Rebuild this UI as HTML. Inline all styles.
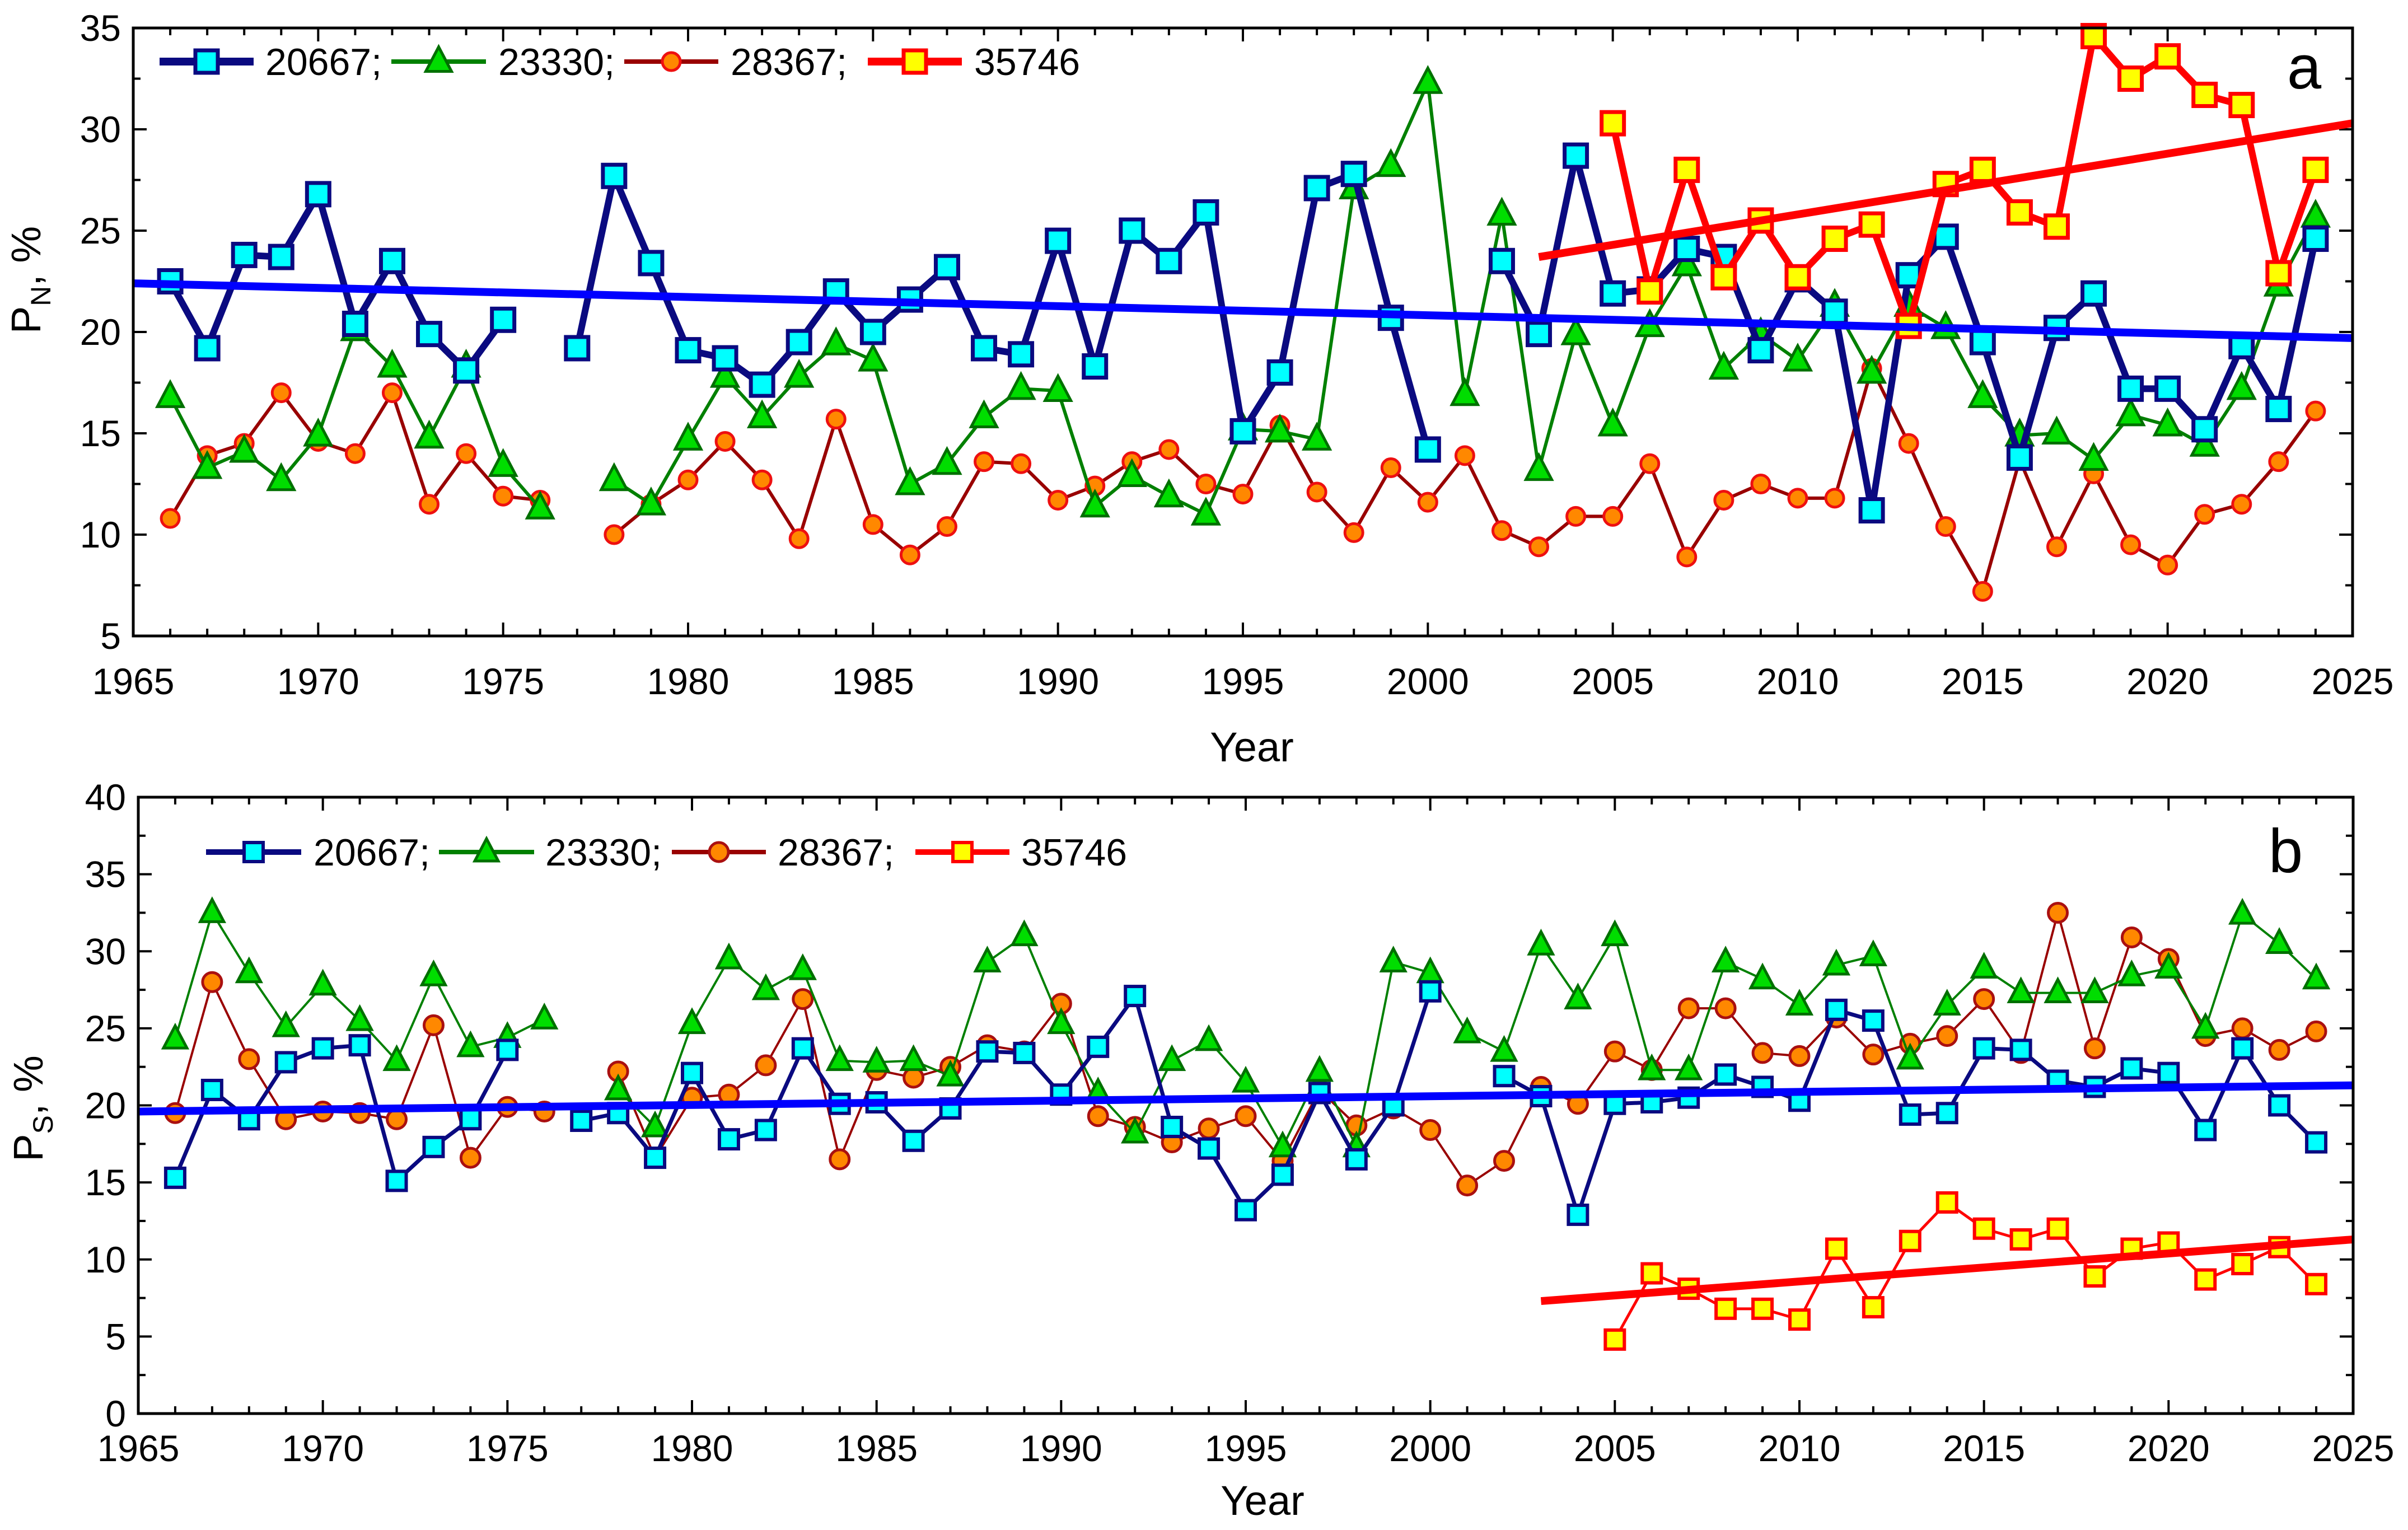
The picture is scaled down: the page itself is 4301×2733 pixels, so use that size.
<!DOCTYPE html>
<html><head><meta charset="utf-8"><style>
html,body{margin:0;padding:0;background:#fff;}
svg{display:block;font-family:"Liberation Sans",Arial,sans-serif;}
</style></head><body>
<svg id="chart" xmlns="http://www.w3.org/2000/svg" width="4301" height="2733" viewBox="0 0 4301 2733">
<rect x="0" y="0" width="4301" height="2733" fill="#fff"/>
</svg>
<script>
const years = [];
for (let y = 1966; y <= 2024; y++) years.push(y);
const yearsS4 = [2005,2006,2007,2008,2009,2010,2011,2012,2013,2014,2015,2016,2017,2018,2019,2020,2021,2022,2023,2024];
const xTickLabels = [1965,1970,1975,1980,1985,1990,1995,2000,2005,2010,2015,2020,2025];
const yTicksA = [5,10,15,20,25,30,35];
const yTicksB = [0,5,10,15,20,25,30,35,40];
const seriesNames = ["20667;","23330;","28367;","35746"];

const aS1 = [22.5,19.2,23.8,23.7,26.8,20.4,23.5,19.9,18.1,20.6,null,19.2,27.7,23.4,19.1,18.7,17.4,19.5,22.0,20.0,21.6,23.2,19.2,18.9,24.5,18.3,25.0,23.5,25.9,15.1,18.0,27.1,27.8,20.7,14.2,null,23.5,19.9,28.7,21.9,22.1,24.1,23.7,19.1,22.6,21.0,11.2,22.8,24.7,19.5,13.8,20.2,21.9,17.2,17.2,15.2,19.3,16.2,24.6];
const aS2 = [16.8,13.3,14.1,12.7,14.9,20.1,18.3,14.8,18.3,13.4,11.3,null,12.7,11.5,14.7,17.8,15.8,17.8,19.4,18.6,12.5,13.5,15.8,17.2,17.1,11.4,12.9,11.9,11.0,15.2,15.1,14.7,27.1,28.2,32.3,16.9,25.8,13.2,19.9,15.4,20.3,23.3,18.2,19.9,18.6,21.3,18.0,21.3,20.2,16.8,14.9,15.0,13.7,15.9,15.4,14.4,17.2,22.3,25.7];
const aS3 = [10.8,13.9,14.5,17.0,14.6,14.0,17.0,11.5,14.0,11.9,11.7,null,10.0,11.5,12.7,14.6,12.7,9.8,15.7,10.5,9.0,10.4,13.6,13.5,11.7,12.4,13.6,14.2,12.5,12.0,15.4,12.1,10.1,13.3,11.6,13.9,10.2,9.4,10.9,10.9,13.5,8.9,11.7,12.5,11.8,11.8,18.2,14.5,10.4,7.2,13.7,9.4,13.0,9.5,8.5,11.0,11.5,13.6,16.1];
const aS4 = [30.3,22.0,28.0,22.7,25.5,22.7,24.6,25.3,20.3,27.3,28.0,25.9,25.2,34.6,32.5,33.6,31.7,31.2,22.9,28.0];
const aTrend1 = [[1965,22.4],[2025,19.7]];
const aTrend4 = [[2003,23.7],[2025,30.3]];

const bS1 = [15.3,21.0,19.1,22.8,23.7,23.9,15.1,17.3,19.1,23.6,null,19.0,19.5,16.6,22.1,17.8,18.4,23.7,20.1,20.2,17.7,19.8,23.5,23.4,20.7,23.8,27.1,18.6,17.2,13.2,15.5,20.8,16.5,20.0,27.4,null,21.9,20.6,12.9,20.1,20.2,20.5,22.0,21.2,20.3,26.2,25.5,19.4,19.5,23.7,23.6,21.6,21.2,22.4,22.1,18.4,23.7,20.0,17.6];
const bS2 = [24.3,32.5,28.6,25.1,27.8,25.5,22.9,28.4,23.8,24.4,25.6,null,21.0,18.6,25.3,29.5,27.5,28.8,22.9,22.8,22.9,21.9,29.3,31.0,25.3,20.8,18.2,22.9,24.2,21.5,17.3,22.2,17.3,29.3,28.6,24.7,23.5,30.4,26.9,31.0,22.3,22.3,29.3,28.2,26.5,29.1,29.7,23.0,26.5,28.9,27.3,27.3,27.3,28.4,28.9,25.0,32.4,30.5,28.2];
const bS3 = [19.5,28.0,23.0,19.1,19.6,19.5,19.1,25.2,16.6,19.9,19.6,null,22.2,16.6,20.5,20.7,22.6,26.9,16.5,22.3,21.8,22.5,23.9,23.5,26.6,19.3,18.6,17.6,18.5,19.3,16.4,21.0,18.7,19.8,18.4,14.8,16.4,21.2,20.1,23.5,22.3,26.3,26.3,23.4,23.2,25.7,23.3,24.0,24.5,26.9,23.4,32.5,23.7,30.9,29.5,24.5,25.0,23.6,24.8];
const bS4 = [4.8,9.1,8.1,6.8,6.8,6.1,10.7,6.9,11.2,13.7,12.0,11.3,12.0,8.9,10.7,11.1,8.7,9.7,10.8,8.4];
const bTrend1 = [[1965,19.6],[2025,21.3]];
const bTrend4 = [[2003,7.3],[2025,11.3]];

const NS = "http://www.w3.org/2000/svg";
const svg = document.getElementById("chart");
function mk(tag, attrs, parent) {
  const e = document.createElementNS(NS, tag);
  for (const k in attrs) e.setAttribute(k, attrs[k]);
  (parent || svg).appendChild(e);
  return e;
}

function marker(g, type, cx, cy, s, st) {
  let e;
  if (type === "square") {
    e = mk("rect", {x: cx - s/2, y: cy - s/2, width: s, height: s, fill: st.fill, stroke: st.stroke, "stroke-width": st.sw}, g);
  } else if (type === "tri") {
    const h = s * 0.95;
    e = mk("polygon", {points: `${cx},${cy - h*0.6} ${cx - s/2},${cy + h*0.4} ${cx + s/2},${cy + h*0.4}`, fill: st.fill, stroke: st.stroke, "stroke-width": st.sw, "stroke-linejoin": "miter"}, g);
  } else {
    e = mk("circle", {cx: cx, cy: cy, r: s/2, fill: st.fill, stroke: st.stroke, "stroke-width": st.sw}, g);
  }
  return e;
}

function panel(cfg) {
  const {x0, x1, y0, y1, ymin, ymax, yTicks, id} = cfg;
  const X = v => x0 + (v - 1965) / 60 * (x1 - x0);
  const Y = v => y1 - (v - ymin) / (ymax - ymin) * (y1 - y0);
  const g = mk("g", {});
  
  

  // ticks
  const tg = mk("g", {stroke: "#000", "stroke-width": 4}, g);
  
  
  for (let yr = 1965; yr <= 2025; yr++) {
    const L = (yr % 5 === 0) ? 24 : 13;
    const xx = X(yr);
    mk("line", {x1: xx, y1: y1, x2: xx, y2: y1 - L}, tg);
    mk("line", {x1: xx, y1: y0, x2: xx, y2: y0 + L}, tg);
  }
  const step = yTicks[1] - yTicks[0];
  for (let v = ymin; v <= ymax + 0.001; v += step / 2) {
    const major = Math.abs((v - ymin) / step - Math.round((v - ymin) / step)) < 0.01;
    const L = major ? 24 : 13;
    const yy = Y(v);
    mk("line", {x1: x0, y1: yy, x2: x0 + L, y2: yy}, tg);
    mk("line", {x1: x1, y1: yy, x2: x1 - L, y2: yy}, tg);
  }
  // tick labels
  xTickLabels.forEach(t => {
    const tx = mk("text", {x: X(t), y: cfg.xlabY, "font-size": 66, "text-anchor": "middle", fill: "#000"}, g);
    tx.textContent = t;
    
    
  });
  yTicks.forEach(t => {
    const tx = mk("text", {x: x0 - 22, y: Y(t) + 23, "font-size": 66, "text-anchor": "end", fill: "#000"}, g);
    tx.textContent = t;
    
    
  });
  // axis titles
  const xt = mk("text", {x: cfg.yearX, y: cfg.yearY, "font-size": 74, "text-anchor": "middle", fill: "#000"}, g);
  xt.textContent = "Year";
  
  
  const yt = mk("text", {transform: `translate(${cfg.ytX},${cfg.ytY}) rotate(-90)`, "font-size": 74, "text-anchor": "middle", fill: "#000"}, g);
  
  
  const t1 = mk("tspan", {}, yt); t1.textContent = "P";
  const t2 = mk("tspan", {dy: 18, "font-size": 50}, yt); t2.textContent = cfg.sub;
  const t3 = mk("tspan", {dy: -18}, yt); t3.textContent = ", %";

  const st = cfg.styles;
  function drawSeries(xs, vals, s, name) {
    const sg = mk("g", {}, g);
    
    
    let seg = [];
    const segs = [];
    xs.forEach((yr, i) => {
      if (vals[i] == null) { if (seg.length) segs.push(seg); seg = []; }
      else seg.push([X(yr), Y(vals[i])]);
    });
    if (seg.length) segs.push(seg);
    segs.forEach(sp => {
      if (sp.length > 1) mk("polyline", {points: sp.map(p => p.join(",")).join(" "), fill: "none", stroke: s.line, "stroke-width": s.lw, "stroke-linejoin": "round"}, sg);
    });
    return sg;
  }
  function drawMarkers(sg, xs, vals, s) {
    xs.forEach((yr, i) => {
      if (vals[i] == null) return;
      const m = marker(sg, s.type, X(yr), Y(vals[i]), s.ms, s.m);
      
      
    });
  }
  function trend(pts, color, name) {
    const l = mk("line", {x1: X(pts[0][0]), y1: Y(pts[0][1]), x2: X(pts[1][0]), y2: Y(pts[1][1]), stroke: color, "stroke-width": 14}, g);
    
    
  }
  const g3 = drawSeries(years, cfg.s3, st[2], 'series-28367-' + id);
  const g2 = drawSeries(years, cfg.s2, st[1], 'series-23330-' + id);
  const g1 = drawSeries(years, cfg.s1, st[0], 'series-20667-' + id);
  const g4 = drawSeries(yearsS4, cfg.s4, st[3], 'series-35746-' + id);
  drawMarkers(g3, years, cfg.s3, st[2]);
  drawMarkers(g2, years, cfg.s2, st[1]);
  drawMarkers(g1, years, cfg.s1, st[0]);
  drawMarkers(g4, yearsS4, cfg.s4, st[3]);
  trend(cfg.t1, "#0000ff", 'trend-20667-' + id);
  trend(cfg.t4, "#ff0000", 'trend-35746-' + id);

  // frame
  const fr = mk("rect", {x: x0, y: y0, width: x1 - x0, height: y1 - y0, fill: "none", stroke: "#000", "stroke-width": 5}, g);
  
  

  // legend
  const lg = mk("g", {}, g);
  
  
  cfg.legend.forEach((L, i) => {
    const s = st[i];
    const eg = mk("g", {}, lg);
    
    
    mk("line", {x1: L[0], y1: cfg.legY, x2: L[1], y2: cfg.legY, stroke: s.line, "stroke-width": s.legLw}, eg);
    marker(eg, s.type, (L[0] + L[1]) / 2, cfg.legY, s.ms, s.m);
    const tx = mk("text", {x: L[2], y: cfg.legY + 24, "font-size": 68, fill: "#000"}, eg);
    tx.textContent = seriesNames[i];
  });
  const lab = mk("text", {x: cfg.labX, y: cfg.labY, "font-size": 110, fill: "#000"}, g);
  lab.textContent = id;
  
  
}

panel({
  id: "a", x0: 238, x1: 4202, y0: 50, y1: 1136, ymin: 5, ymax: 35, yTicks: yTicksA,
  s1: aS1, s2: aS2, s3: aS3, s4: aS4, t1: aTrend1, t4: aTrend4,
  xlabY: 1240, yearX: 2236, yearY: 1360, ytX: 72, ytY: 500, sub: "N",
  legY: 110, legend: [[285,453,474],[699,868,890],[1115,1283,1305],[1550,1718,1740]],
  labX: 4085, labY: 158,
  styles: [
    {type: "square", line: "#0a0a80", lw: 12, legLw: 14, ms: 40, m: {fill: "#00ffff", stroke: "#0a0a80", sw: 7}},
    {type: "tri", line: "#008000", lw: 6, legLw: 8, ms: 46, m: {fill: "#00dd00", stroke: "#007000", sw: 5}},
    {type: "circle", line: "#990000", lw: 6, legLw: 8, ms: 32, m: {fill: "#ff8800", stroke: "#ee1010", sw: 5}},
    {type: "square", line: "#ff0000", lw: 12, legLw: 14, ms: 40, m: {fill: "#ffff00", stroke: "#ff0000", sw: 7}}
  ]
});
panel({
  id: "b", x0: 247, x1: 4203, y0: 1424, y1: 2525, ymin: 0, ymax: 40, yTicks: yTicksB,
  s1: bS1, s2: bS2, s3: bS3, s4: bS4, t1: bTrend1, t4: bTrend4,
  xlabY: 2610, yearX: 2255, yearY: 2706, ytX: 76, ytY: 1980, sub: "S",
  legY: 1522, legend: [[368,538,560],[784,954,974],[1200,1368,1389],[1635,1803,1824]],
  labX: 4052, labY: 1558,
  styles: [
    {type: "square", line: "#0a0a80", lw: 7, legLw: 10, ms: 34, m: {fill: "#00ffff", stroke: "#0a0a80", sw: 6}},
    {type: "tri", line: "#008000", lw: 4, legLw: 8, ms: 42, m: {fill: "#00dd00", stroke: "#007000", sw: 5}},
    {type: "circle", line: "#990000", lw: 4, legLw: 8, ms: 34, m: {fill: "#ff8800", stroke: "#aa1010", sw: 5}},
    {type: "square", line: "#ff0000", lw: 5, legLw: 10, ms: 34, m: {fill: "#ffff00", stroke: "#ff0000", sw: 6}}
  ]
});
</script>
</body></html>
